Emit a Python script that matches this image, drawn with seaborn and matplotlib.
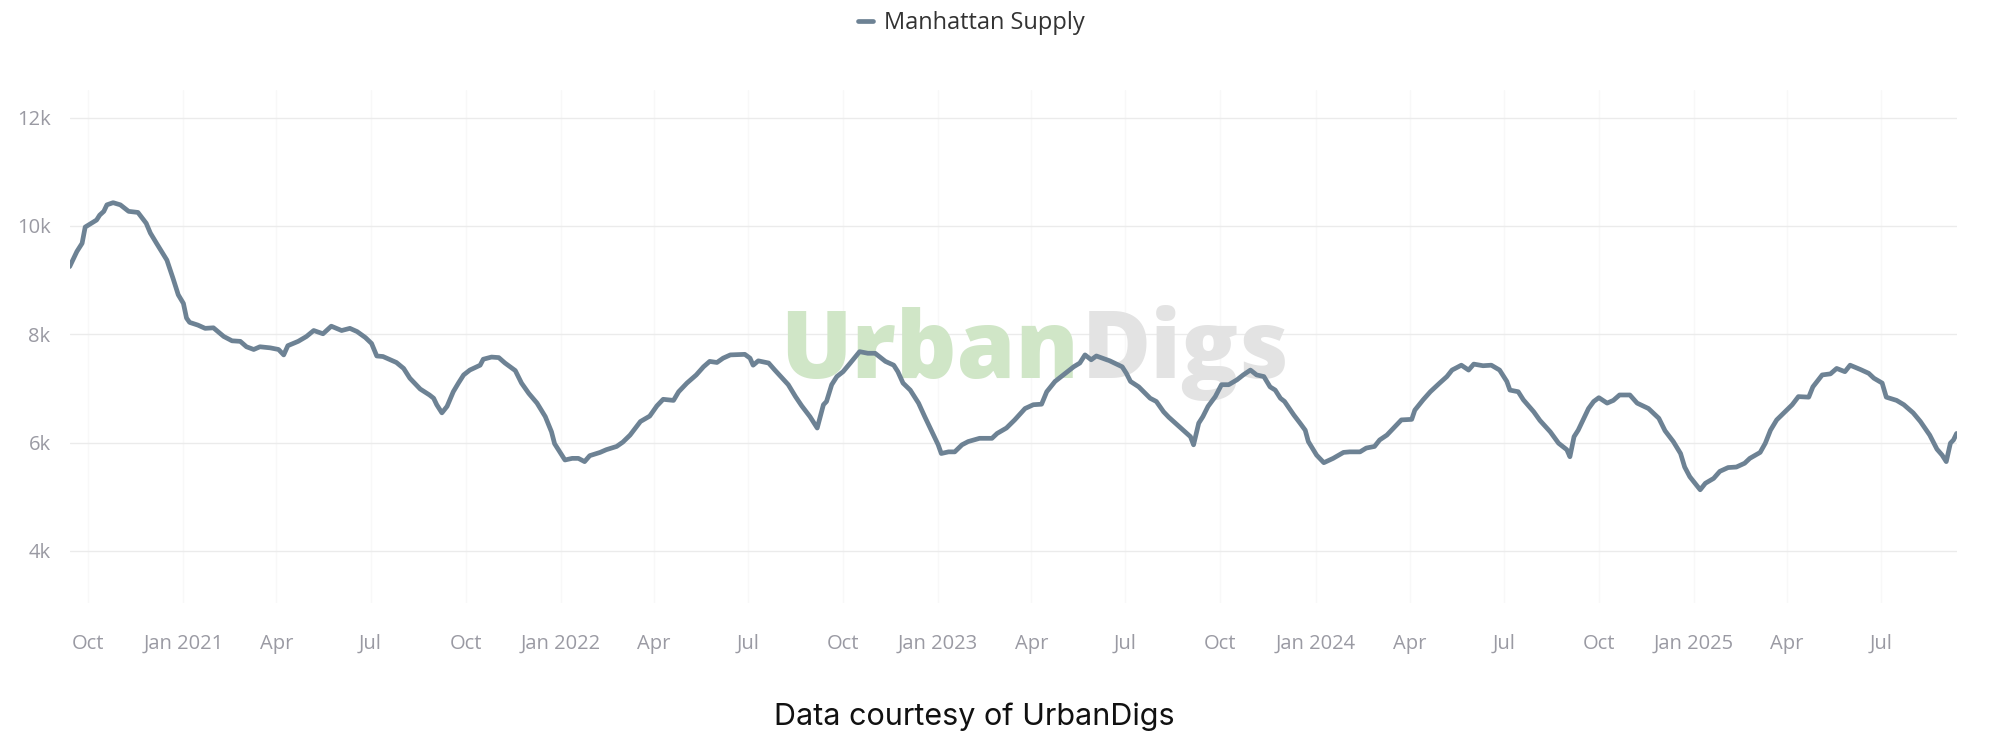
import numpy as np
import pandas as pd
import matplotlib
matplotlib.use("Agg")
import matplotlib.pyplot as plt
import matplotlib.dates as mdates
import seaborn as sns

# ---------------- data ----------------
base_date = "2020-10-01"
day_offsets = [
    -18, -11, -6, -3, 3, 8, 11, 15, 18, 24, 31, 39, 48, 56, 60, 66, 76, 82, 87, 92,
    95, 98, 106, 113, 121, 131, 139, 147, 153, 160, 166, 176, 184, 189, 193, 203, 211, 218, 227, 235,
    245, 253, 260, 268, 274, 279, 285, 298, 305, 311, 321, 330, 334, 337, 342, 347, 353, 358, 363, 369,
    379, 382, 390, 397, 403, 413, 419, 426, 434, 442, 448, 451, 456, 461, 468, 474, 480, 485, 495, 501,
    511, 517, 524, 534, 543, 550, 556, 566, 571, 579, 588, 595, 601, 608, 614, 621, 635, 640, 643, 648,
    658, 664, 677, 684, 690, 698, 705, 711, 714, 719, 724, 730, 737, 746, 754, 761, 771, 779, 783, 788,
    795, 803, 809, 816, 822, 825, 832, 838, 845, 851, 862, 874, 879, 888, 896, 906, 914, 922, 927, 935,
    943, 953, 959, 964, 970, 975, 988, 1000, 1004, 1008, 1016, 1027, 1033, 1040, 1045, 1056, 1066, 1069, 1074, 1078,
    1083, 1090, 1096, 1103, 1111, 1117, 1124, 1130, 1137, 1143, 1148, 1153, 1157, 1166, 1172, 1177, 1180, 1188, 1195, 1204,
    1214, 1220, 1230, 1236, 1244, 1249, 1256, 1264, 1270, 1280, 1283, 1291, 1298, 1307, 1314, 1319, 1328, 1335, 1340, 1349,
    1357, 1365, 1372, 1375, 1383, 1388, 1398, 1404, 1414, 1422, 1430, 1433, 1437, 1441, 1446, 1451, 1456, 1461, 1469, 1475,
    1481, 1491, 1498, 1509, 1519, 1525, 1533, 1540, 1544, 1549, 1554, 1559, 1564, 1572, 1578, 1586, 1594, 1602, 1607, 1617,
    1622, 1627, 1633, 1641, 1648, 1654, 1664, 1668, 1677, 1685, 1691, 1699, 1704, 1714, 1722, 1727, 1735, 1739, 1749, 1756,
    1765, 1772, 1781, 1788, 1793, 1797, 1801, 1804, 1807,
]
supply = [
    9250, 9530, 9680, 9980, 10050, 10110, 10200, 10270, 10390, 10430, 10390, 10270, 10250, 10050, 9870, 9680, 9370, 9030, 8730, 8570,
    8300, 8220, 8170, 8110, 8120, 7960, 7880, 7870, 7770, 7720, 7770, 7750, 7720, 7620, 7790, 7870, 7960, 8070, 8010, 8150,
    8070, 8110, 8050, 7940, 7830, 7600, 7590, 7480, 7370, 7190, 6990, 6880, 6820, 6700, 6550, 6670, 6940, 7100, 7250, 7340,
    7430, 7540, 7580, 7570, 7470, 7330, 7100, 6910, 6730, 6480, 6200, 5980, 5830, 5680, 5710, 5710, 5650, 5760, 5820, 5870,
    5930, 6010, 6140, 6390, 6490, 6680, 6800, 6780, 6940, 7100, 7250, 7400, 7500, 7480, 7560, 7620, 7630, 7560, 7430, 7510,
    7470, 7340, 7070, 6850, 6680, 6480, 6270, 6700, 6760, 7070, 7220, 7310, 7470, 7680, 7650, 7650, 7500, 7430, 7310, 7100,
    6970, 6730, 6480, 6200, 5960, 5800, 5830, 5830, 5960, 6020, 6080, 6080, 6170, 6270, 6420, 6630, 6700, 6710, 6940, 7130,
    7250, 7400, 7470, 7620, 7530, 7600, 7510, 7400, 7280, 7130, 7030, 6820, 6760, 6570, 6470, 6280, 6110, 5960, 6360, 6480,
    6670, 6850, 7070, 7070, 7160, 7250, 7340, 7250, 7220, 7030, 6970, 6820, 6760, 6510, 6360, 6230, 6020, 5770, 5630, 5710,
    5820, 5830, 5830, 5900, 5930, 6050, 6140, 6300, 6420, 6430, 6600, 6790, 6940, 7100, 7220, 7340, 7430, 7340, 7450, 7420,
    7430, 7340, 7130, 6970, 6940, 6790, 6570, 6410, 6200, 5990, 5870, 5740, 6110, 6230, 6430, 6630, 6760, 6830, 6730, 6780,
    6880, 6880, 6730, 6630, 6450, 6220, 6020, 5800, 5550, 5370, 5250, 5130, 5250, 5340, 5470, 5540, 5550, 5620, 5710, 5820,
    5990, 6230, 6420, 6570, 6700, 6850, 6840, 7030, 7250, 7270, 7370, 7310, 7430, 7350, 7280, 7190, 7100, 6840, 6780, 6700,
    6550, 6390, 6140, 5880, 5770, 5650, 5990, 6050, 6170,
]
series_name = "Manhattan Supply"
y_ticks = [4000, 6000, 8000, 10000, 12000]
y_tick_labels = ["4k", "6k", "8k", "10k", "12k"]
x_tick_dates = pd.date_range("2020-10-01", "2025-07-01", freq="QS")
x_tick_labels = [f"Jan {d.year}" if d.month == 1 else d.strftime("%b") for d in x_tick_dates]
caption = "Data courtesy of UrbanDigs"

# ---------------- styling ----------------
line_color = "#6d8294"
tick_color = "#9a9aa3"

sns.set_theme(style="white")
plt.rcParams["font.family"] = ["Open Sans", "DejaVu Sans"]

W, H = 1998, 755
fig = plt.figure(figsize=(W / 100, H / 100), dpi=100)
left, right, top, bottom = 70, 1956.7, 90, 603
ax = fig.add_axes([left / W, 1 - bottom / H, (right - left) / W, (bottom - top) / H])
ax.set_facecolor("none")

base = pd.Timestamp(base_date)
dates = base + pd.to_timedelta(day_offsets, unit="D")
df = pd.DataFrame({"date": dates, "value": supply, "series": series_name})

sns.lineplot(data=df, x="date", y="value", hue="series", palette=[line_color],
             linewidth=3.4, ax=ax, legend=True, zorder=3)

ax.set_xlim(base + pd.Timedelta(days=-17.7), base + pd.Timedelta(days=1807.1))
ax.set_ylim(3040, 12510)

ax.set_yticks(y_ticks, y_tick_labels)
ax.set_xticks(list(x_tick_dates), x_tick_labels)
ax.tick_params(axis="y", length=0, pad=14, labelcolor=tick_color, labelsize=14.5)
ax.tick_params(axis="x", length=0, pad=22, labelcolor=tick_color, labelsize=14.5)
ax.set_xlabel("")
ax.set_ylabel("")
for s in ax.spines.values():
    s.set_visible(False)
ax.grid(axis="y", color="#ebebeb", linewidth=1.0, zorder=0)
ax.grid(axis="x", color="#f8f8f8", linewidth=1.0, zorder=0)
ax.set_axisbelow(True)

sns.move_legend(ax, loc="center", bbox_to_anchor=(971.5 / W, 1 - 23 / H),
                bbox_transform=fig.transFigure, title=None, frameon=False,
                handlelength=0.65, handletextpad=0.45, fontsize=17)
for t in ax.get_legend().get_texts():
    t.set_color("#333333")

# watermark
ax.text(780 / W, 1 - 378 / H, "Urban", transform=fig.transFigure, ha="left", va="baseline",
        fontsize=68, fontweight="heavy", color="#d0e6c7", zorder=1, clip_on=False)
ax.text(1082 / W, 1 - 378 / H, "Digs", transform=fig.transFigure, ha="left", va="baseline",
        fontsize=68, fontweight="heavy", color="#e3e3e3", zorder=1, clip_on=False)

fig.text(974 / W, 1 - 717 / H, caption, ha="center", va="center", fontsize=22,
         color="#111111", family=["Inter", "DejaVu Sans"])

fig.savefig("out.png", dpi=100, facecolor="white")
